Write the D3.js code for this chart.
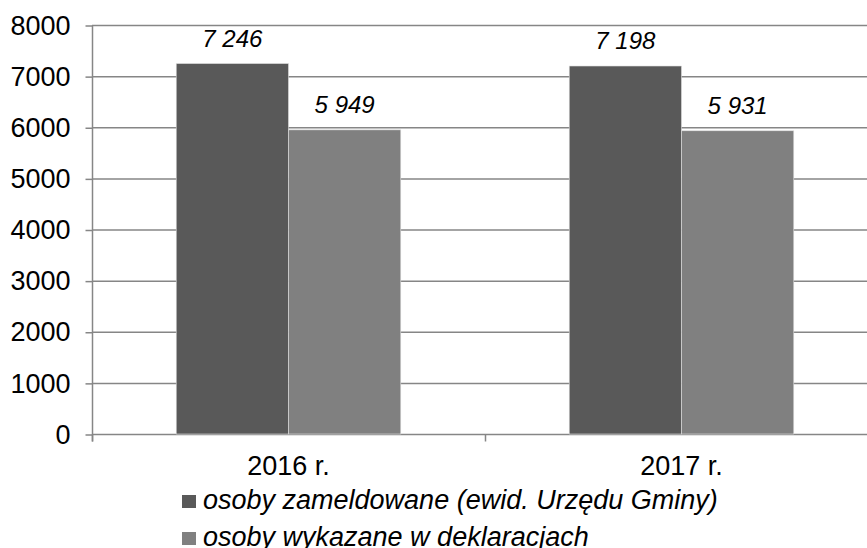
<!DOCTYPE html>
<html>
<head>
<meta charset="utf-8">
<script src="https://cdn.jsdelivr.net/npm/d3@7"></script>
<style>
  body { margin: 0; background: #fff; }
  svg { display: block; font-family: "Liberation Sans", Arial, sans-serif; }
</style>
</head>
<body>
<div id="container"></div>
<script>
// chart data
var years = ["2016 r.", "2017 r."];
var seriesNames = ["osoby zameldowane (ewid. Urzędu Gminy)", "osoby wykazane w deklaracjach"];
var registered = [7246, 7198];
var declared = [5949, 5931];
var yTicks = [0, 1000, 2000, 3000, 4000, 5000, 6000, 7000, 8000];

var colors = ["#595959", "#808080"];
var gridColor = "#868686";

var width = 867, height = 548;
var plot = {left: 92, right: 878, top: 25, bottom: 434};

var svg = d3.select("#container").append("svg")
	.attr("width", width)
	.attr("height", height);

var x = d3.scaleBand().domain(years).range([plot.left, plot.right]);
var y = d3.scaleLinear().domain([0, 8000]).range([plot.bottom, plot.top]);

// gap width 150% like the original spreadsheet chart
var barW = x.bandwidth() / 3.5;

// gridlines
svg.append("g")
	.selectAll("line")
	.data(yTicks).enter()
	.append("line")
		.attr("x1", plot.left)
		.attr("x2", plot.right)
		.attr("y1", function(d) { return y(d) + 0.5; })
		.attr("y2", function(d) { return y(d) + 0.5; })
		.style("stroke", gridColor)
		.style("stroke-width", 1.5);

// y axis
var yAxis = d3.axisLeft(y).tickValues(yTicks).tickSize(7).tickPadding(15).tickFormat(d3.format("d"));
var gy = svg.append("g")
	.attr("transform", "translate(" + (plot.left + 0.5) + ",0.5)")
	.call(yAxis);
gy.select(".domain").remove();
gy.append("line")
	.attr("x1", 0).attr("x2", 0)
	.attr("y1", y(8000)).attr("y2", plot.bottom + 7)
	.style("stroke", gridColor).style("stroke-width", 1.5);
gy.selectAll(".tick line").style("stroke", gridColor).style("stroke-width", 1.5);
gy.selectAll(".tick text")
	.style("font-size", "27px")
	.style("fill", "#000")
	.style("font-family", "Liberation Sans, Arial, sans-serif");

// x axis ticks at category boundaries
var gx = svg.append("g")
	.attr("transform", "translate(0," + (plot.bottom + 0.5) + ")");
gx.selectAll("line.tick")
	.data([0, 1, 2]).enter()
	.append("line")
		.attr("class", "tick")
		.attr("x1", function(d) { return plot.left + d * x.step() + 0.5; })
		.attr("x2", function(d) { return plot.left + d * x.step() + 0.5; })
		.attr("y1", 0).attr("y2", 7)
		.style("stroke", gridColor).style("stroke-width", 1.5);
gx.selectAll("text")
	.data(years).enter()
	.append("text")
		.attr("x", function(d) { return x(d) + x.bandwidth() / 2; })
		.attr("y", 40)
		.style("text-anchor", "middle")
		.style("font-size", "27px")
		.text(function(d) { return d; });

// bars
var series = [registered, declared];
series.forEach(function(vals, s) {
	var g = svg.append("g");
	g.selectAll("rect")
		.data(vals).enter()
		.append("rect")
			.attr("x", function(d, i) { return x(years[i]) + x.bandwidth() / 2 - barW + s * barW; })
			.attr("y", function(d) { return y(d); })
			.attr("width", barW)
			.attr("height", function(d) { return plot.bottom - y(d); })
			.style("fill", colors[s])
			.style("stroke", "#e0e0e0")
			.style("stroke-width", 0.6);
	g.selectAll("text")
		.data(vals).enter()
		.append("text")
			.attr("x", function(d, i) { return x(years[i]) + x.bandwidth() / 2 - barW / 2 + s * barW; })
			.attr("y", function(d) { return y(d) - 17; })
			.style("text-anchor", "middle")
			.style("font-size", "24px")
			.style("font-style", "italic")
			.text(function(d) { return d3.format(",")(d).replace(",", " "); });
});

// legend
var legend = svg.selectAll(".legend")
	.data(seriesNames).enter()
	.append("g")
		.attr("class", "legend")
		.attr("transform", function(d, i) { return "translate(182," + (495 + i * 37) + ")"; });

legend.append("rect")
	.attr("width", 14)
	.attr("height", 13)
	.style("fill", function(d, i) { return colors[i]; });

legend.append("text")
	.attr("x", 21)
	.attr("y", 14)
	.style("font-size", "27px")
	.style("font-style", "italic")
	.text(function(d) { return d; });
</script>
</body>
</html>
